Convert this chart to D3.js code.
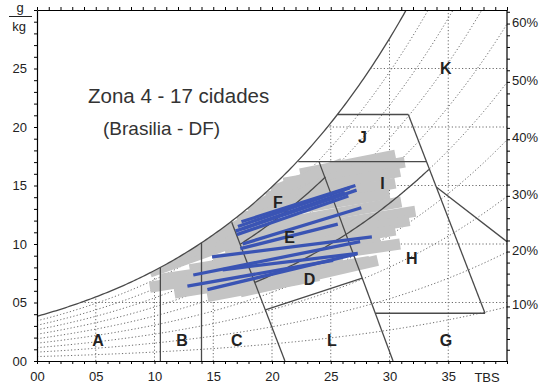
<!DOCTYPE html>
<html>
<head>
<meta charset="utf-8">
<script src="https://cdn.jsdelivr.net/npm/d3@7"></script>
<style>
  body { margin: 0; background: #fff; }
  svg { display: block; font-family: "Liberation Sans", Arial, sans-serif; }
</style>
</head>
<body>
<svg id="chart" width="539" height="385"></svg>
<script>
// ---- data ----
const tbsLabels = [0, 5, 10, 15, 20, 25, 30, 35];      // dry bulb temperature, °C
const wLabels = [0, 5, 10, 15, 20, 25];                 // humidity ratio, g/kg
const rhCurves = [0.1, 0.2, 0.3, 0.4, 0.5, 0.6, 0.7, 0.8, 0.9];
const rhAxisLabels = [10, 20, 30, 40, 50, 60];          // % on right edge
const gridT = [5, 10, 15, 20, 25, 30, 35];
const gridW = [5, 10, 15, 20, 25];

// zone boundaries [T, w]
const straightZones = [
  [[10.5, 0], [10.5, 'sat']],
  [[14, 0], [14, 'sat']],
  [[16.57, 11.85], [21.1, 0]],
  [[24.0, 17.04], [30.3, 0]],
  [[19.44, 4.36], [27.68, 7.09]],
  [[22.24, 17.04], [33.15, 17.04]],
  [[25.6, 21.07], [31.6, 21.07]],
  [[31.6, 21.07], [38.13, 4.08]],
  [[28.8, 4.08], [38.13, 4.08]],
  [[33.98, 14.87], [40, 10.2]]
];
const rhZones = [ // [phi, T from, T to]
  [0.8, 17.3, 24.55],
  [0.5, 18.55, 33.35]
];

// other cities of the zone (grey), [Tmin, w, Tmax, w]
const greyLines = [
  [22.4, 16.0, 30.5, 17.6], [21.0, 15.2, 31.3, 17.0], [19.5, 14.0, 30.9, 16.2],
  [18.0, 13.0, 30.5, 15.2], [17.0, 12.2, 30.0, 14.3], [16.4, 11.0, 31.0, 13.6],
  [16.4, 10.2, 32.2, 12.8], [16.0, 9.4, 31.7, 12.0], [15.0, 8.6, 30.5, 11.2],
  [13.0, 7.8, 29.2, 10.5], [10.5, 7.0, 30.9, 10.0],
  [9.6, 6.3, 26.0, 9.0], [11.7, 5.8, 28.3, 8.5], [14.5, 5.5, 24.0, 7.3],
  [17.3, 5.9, 29.0, 8.6],
  [9.6, 7.6, 18.0, 10.6], [12.0, 8.8, 20.0, 12.5], [15.0, 10.5, 22.0, 14.2],
  [18.0, 12.8, 24.0, 16.2], [20.0, 14.5, 26.0, 16.9]
];
// Brasilia monthly lines (blue)
const blueLines = [
  [16.9, 11.1, 26.2, 14.4], [17.1, 11.5, 26.6, 14.8], [17.4, 11.9, 27.1, 15.0],
  [17.0, 10.8, 26.5, 14.1], [17.5, 11.3, 27.2, 14.6], [17.5, 10.0, 27.6, 13.1],
  [17.3, 9.6, 25.6, 11.7], [14.9, 8.9, 28.5, 10.6], [13.3, 7.35, 27.5, 10.2],
  [15.8, 7.8, 27.3, 9.2], [12.8, 6.4, 25.2, 8.6], [14.5, 6.1, 27.2, 9.15]
];

const zoneNames = [
  ['A', 5.2, 1.8], ['B', 12.35, 1.8], ['C', 17.0, 1.8], ['L', 25.1, 1.8],
  ['G', 34.8, 1.8], ['D', 23.2, 7.0], ['H', 31.9, 8.8], ['E', 21.5, 10.6],
  ['F', 20.5, 13.6], ['I', 29.4, 15.2], ['J', 27.7, 19.1], ['K', 34.8, 25.0]
];

// ---- psychrometrics ----
const P = 100; // kPa
const psat = T => 0.61078 * Math.exp(17.27 * T / (T + 237.3));
const wAt = (T, phi) => { const p = phi * psat(T); return 622 * p / (P - p); };
const curve = (phi, t0, t1) => {
  const pts = d3.range(t0, t1, 0.2).map(T => [T, wAt(T, phi)]);
  pts.push([t1, wAt(t1, phi)]);
  return pts;
};

// ---- chart ----
const svg = d3.select('#chart');
const x = d3.scaleLinear().domain([0, 40]).range([37, 507]);
const y = d3.scaleLinear().domain([0, 30]).range([361, 10]);
const line = d3.line().x(d => x(d[0])).y(d => y(d[1]));

const defs = svg.append('defs');
defs.append('clipPath').attr('id', 'plot').append('rect')
  .attr('x', x(0)).attr('y', y(30)).attr('width', x(40) - x(0)).attr('height', y(0) - y(30));
const under = curve(1, 0, 40).map(d => [d[0], Math.min(d[1], 30)]);
under.push([40, 0], [0, 0]);
defs.append('clipPath').attr('id', 'under').append('path').attr('d', line(under) + 'Z');

const dotted = s => s.attr('stroke', '#6a6a6a').attr('stroke-width', 1)
  .attr('stroke-dasharray', '1.2,2.2').attr('fill', 'none');
const grid = svg.append('g').attr('clip-path', 'url(#under)');
gridT.forEach(t => grid.append('path').attr('d', line([[t, 0], [t, 30]])).call(dotted));
gridW.forEach(w => grid.append('path').attr('d', line([[0, w], [40, w]])).call(dotted));

const rh = svg.append('g').attr('clip-path', 'url(#plot)');
rhCurves.forEach(phi => rh.append('path').attr('d', line(curve(phi, 0, 40))).call(dotted));

// grey cloud
svg.append('g').attr('clip-path', 'url(#under)')
  .selectAll('path').data(greyLines).join('path')
  .attr('d', d => line([[d[0], d[1]], [d[2], d[3]]]))
  .attr('stroke', '#c4c4c4').attr('stroke-width', 11).attr('fill', 'none');

// zones
const zones = svg.append('g').attr('clip-path', 'url(#plot)')
  .attr('stroke', '#4a4a4a').attr('stroke-width', 1.3).attr('fill', 'none');
zones.append('path').attr('d', line(curve(1, 0, 32)));
straightZones.forEach(seg => {
  const pts = seg.map(p => [p[0], p[1] === 'sat' ? wAt(p[0], 1) : p[1]]);
  zones.append('path').attr('d', line(pts));
});
rhZones.forEach(r => zones.append('path').attr('d', line(curve(r[0], r[1], r[2]))));

// blue lines
svg.append('g').selectAll('path').data(blueLines).join('path')
  .attr('d', d => line([[d[0], d[1]], [d[2], d[3]]]))
  .attr('stroke', '#3a54b4').attr('stroke-width', 3.3).attr('fill', 'none');

// axes
const fmt = d3.format('02d');
const axisStyle = g => {
  g.select('.domain').attr('stroke', '#000').attr('stroke-width', 1.2);
  g.selectAll('.tick line').attr('stroke', '#000');
  g.selectAll('text').attr('font-size', 13).attr('fill', '#222').attr('font-family', '"Liberation Sans", Arial, sans-serif');
};
svg.append('g').attr('transform', `translate(0,${y(0)})`)
  .call(d3.axisBottom(x).tickValues(d3.range(0, 41)).tickSize(3).tickSizeOuter(0).tickPadding(8)
    .tickFormat(d => tbsLabels.includes(d) ? fmt(d) : ''))
  .call(axisStyle);
svg.append('g').attr('transform', `translate(0,${y(30)})`)
  .call(d3.axisTop(x).tickValues(d3.range(0, 41)).tickSize(3).tickSizeOuter(0).tickFormat(''))
  .call(axisStyle);
svg.append('g').attr('transform', `translate(${x(0)},0)`)
  .call(d3.axisLeft(y).tickValues(d3.range(0, 31)).tickSize(3).tickSizeOuter(0).tickPadding(7)
    .tickFormat(d => wLabels.includes(d) ? fmt(d) : ''))
  .call(axisStyle);
// right edge: relative humidity at 40 °C
const yRH = p => y(wAt(40, p / 100));
const right = svg.append('g');
right.append('line').attr('x1', x(40)).attr('x2', x(40)).attr('y1', y(0)).attr('y2', y(30))
  .attr('stroke', '#000').attr('stroke-width', 1.2);
right.selectAll('line.t').data(d3.range(2, 64, 2).filter(p => yRH(p) >= y(30))).join('line')
  .attr('class', 't').attr('x1', x(40)).attr('x2', x(40) + 3)
  .attr('y1', p => yRH(p)).attr('y2', p => yRH(p)).attr('stroke', '#000');
right.selectAll('text').data(rhAxisLabels).join('text')
  .attr('x', x(40) + 5).attr('y', p => yRH(p) - 2).attr('dy', '0.35em')
  .attr('font-size', 13).attr('fill', '#222').text(p => p + '%');

svg.append('text').attr('x', x(38.3)).attr('y', 381.5).attr('text-anchor', 'middle')
  .attr('font-size', 13).attr('fill', '#222').text('TBS');
svg.append('text').attr('x', 20).attr('y', 12).attr('text-anchor', 'middle')
  .attr('font-size', 13).attr('fill', '#222').text('g');
svg.append('line').attr('x1', 9).attr('x2', 32).attr('y1', 16.5).attr('y2', 16.5)
  .attr('stroke', '#222');
svg.append('text').attr('x', 19).attr('y', 31).attr('text-anchor', 'middle')
  .attr('font-size', 13).attr('fill', '#222').text('kg');

// zone letters
svg.append('g').selectAll('text').data(zoneNames).join('text')
  .attr('x', d => x(d[1])).attr('y', d => y(d[2])).attr('dy', '0.36em')
  .attr('text-anchor', 'middle').attr('font-size', 16).attr('font-weight', 'bold')
  .attr('fill', '#222').text(d => d[0]);

// title
svg.append('text').attr('x', 88).attr('y', 103).attr('font-size', 20.5).attr('fill', '#333')
  .attr('xml:space', 'preserve').style('white-space', 'pre')
  .text('Zona 4 - 17 cidades');
svg.append('text').attr('x', 103).attr('y', 135).attr('font-size', 19).attr('fill', '#333')
  .text('(Brasilia - DF)');
</script>
</body>
</html>
